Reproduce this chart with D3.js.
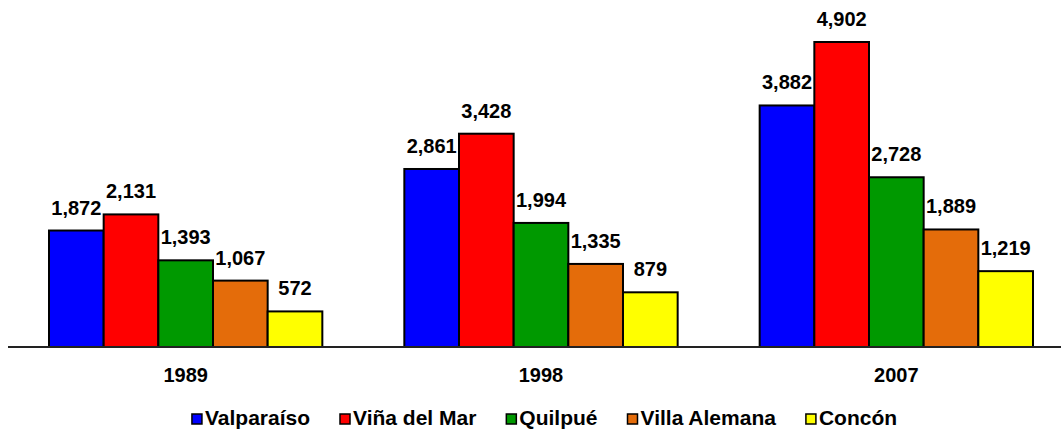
<!DOCTYPE html>
<head>
  <meta charset="utf-8">
  <script src="https://cdn.jsdelivr.net/npm/d3@7/dist/d3.min.js"></script>
  <style>
    body { margin:0; background:#fff; }
    text { font-family: "Liberation Sans", Arial, sans-serif; font-weight: bold; fill:#000; }
  </style>
</head>
<body>
  <script>
    var years = ["1989", "1998", "2007"];
    var comunas = ["Valparaíso", "Viña del Mar", "Quilpué", "Villa Alemana", "Concón"];
    var colores = ["#0000ff", "#ff0000", "#009900", "#e46c0a", "#ffff00"];
    // una lista por comuna, en el orden de years
    var valparaiso   = [1872, 2861, 3882];
    var vinaDelMar   = [2131, 3428, 4902];
    var quilpue      = [1393, 1994, 2728];
    var villaAlemana = [1067, 1335, 1889];
    var concon       = [572, 879, 1219];

    var series = [valparaiso, vinaDelMar, quilpue, villaAlemana, concon];

    var width = 1061, height = 430;
    var baseY = 347;

    var svg = d3.select("body").append("svg")
      .attr("width", width)
      .attr("height", height);

    var x0 = d3.scaleBand().domain(years).range([8, 1074]).paddingInner(0).paddingOuter(0);
    // grupo = 5 barras + hueco de 1.5 barras
    var groupW = x0.bandwidth() * 5 / 6.5;
    var x1 = d3.scaleBand().domain(comunas).range([0, groupW]);

    var y = d3.scaleLinear().domain([0, 5000]).range([baseY, baseY - 5000 * 0.06222]);

    var table = [];
    years.forEach(function(yr, i) {
      comunas.forEach(function(c, j) {
        table.push({ year: yr, comuna: c, value: series[j][i], color: colores[j] });
      });
    });

    function barX(d) {
      return x0(d.year) + (x0.bandwidth() - groupW) / 2 + x1(d.comuna);
    }

    svg.selectAll("rect.bar")
      .data(table)
      .enter()
      .append("rect")
      .attr("class", "bar")
      .attr("x", barX)
      .attr("y", function(d) { return y(d.value); })
      .attr("width", x1.bandwidth())
      .attr("height", function(d) { return baseY - y(d.value); })
      .style("fill", function(d) { return d.color; })
      .style("stroke", "#000")
      .style("stroke-width", 2);

    svg.selectAll("text.val")
      .data(table)
      .enter()
      .append("text")
      .attr("class", "val")
      .attr("x", function(d) { return barX(d) + x1.bandwidth() / 2; })
      .attr("y", function(d) { return y(d.value) - 16; })
      .attr("text-anchor", "middle")
      .style("font-size", "20px")
      .text(function(d) { return d3.format(",")(d.value); });

    // eje
    svg.append("line")
      .attr("x1", 8).attr("x2", width)
      .attr("y1", baseY).attr("y2", baseY)
      .style("stroke", "#222")
      .style("stroke-width", 2);

    svg.selectAll("text.cat")
      .data(years)
      .enter()
      .append("text")
      .attr("class", "cat")
      .attr("x", function(d) { return x0(d) + x0.bandwidth() / 2; })
      .attr("y", 382)
      .attr("text-anchor", "middle")
      .style("font-size", "20px")
      .text(function(d) { return d; });

    // leyenda
    var legend = svg.append("g");
    var lx = 0;
    comunas.forEach(function(c, j) {
      var g = legend.append("g").attr("transform", "translate(" + lx + ",0)");
      g.append("rect")
        .attr("x", 1).attr("y", 414)
        .attr("width", 10).attr("height", 10)
        .style("fill", colores[j])
        .style("stroke", "#000")
        .style("stroke-width", 1.5);
      var t = g.append("text")
        .attr("x", 14).attr("y", 425)
        .style("font-size", "21px")
        .text(c);
      lx += 14 + t.node().getComputedTextLength() + 29;
    });
    var legW = lx - 29;
    legend.attr("transform", "translate(" + (544 - legW / 2) + ",0)");
  </script>
</body>
